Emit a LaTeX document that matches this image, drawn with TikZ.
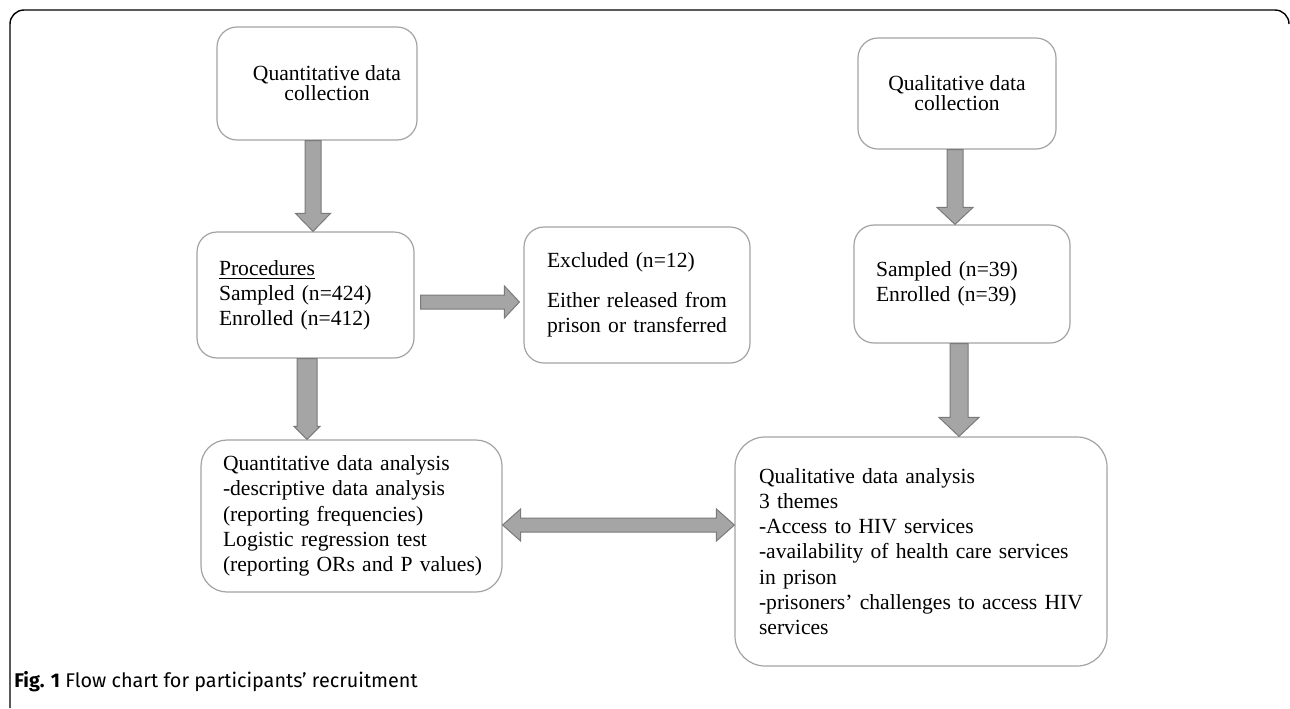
\documentclass[tikz,border=0pt]{standalone}
\usepackage{fontspec}
\setmainfont{Liberation Serif}
\newfontfamily\capfont{Fira Sans}
\usepackage{tikz}
\usetikzlibrary{calc}
\definecolor{boxline}{RGB}{163,163,163}
\definecolor{arrowfill}{RGB}{165,165,165}
\definecolor{arrowline}{RGB}{122,122,122}
\tikzstyle{box}=[draw=boxline, line width=0.6pt, rounded corners=10pt, fill=white, inner sep=0pt, font=\fontsize{10.8pt}{12.6pt}\selectfont]
\tikzstyle{titlebox}=[box, align=center, font=\fontsize{10.8pt}{10pt}\selectfont]
\tikzstyle{textbox}=[box, align=left]
\tikzstyle{fatarrow}=[draw=arrowline, fill=arrowfill, line width=0.5pt, line join=miter]
\providecommand{\fatdown}[5]{\path[fatarrow] let \p1=(#1), \p2=(#2) in
  (\x1-#3,\y1) -- (\x1-#3,\y2+#5) -- (\x1-#4,\y2+#5) -- (\x1,\y2)
  -- (\x1+#4,\y2+#5) -- (\x1+#3,\y2+#5) -- (\x1+#3,\y1) -- cycle;}
\providecommand{\fatright}[5]{\path[fatarrow] let \p1=(#1), \p2=(#2) in
  (\x1,\y1+#3) -- (\x2-#5,\y1+#3) -- (\x2-#5,\y1+#4) -- (\x2,\y1)
  -- (\x2-#5,\y1-#4) -- (\x2-#5,\y1-#3) -- (\x1,\y1-#3) -- cycle;}
\providecommand{\fatboth}[5]{\path[fatarrow] let \p1=(#1), \p2=(#2) in
  (\x1,\y1) -- (\x1+#5,\y1+#4) -- (\x1+#5,\y1+#3) -- (\x2-#5,\y1+#3) -- (\x2-#5,\y1+#4)
  -- (\x2,\y1) -- (\x2-#5,\y1-#4) -- (\x2-#5,\y1-#3) -- (\x1+#5,\y1-#3) -- (\x1+#5,\y1-#4) -- cycle;}

\begin{document}
\begin{tikzpicture}[x=0.5pt, y=-0.5pt]
\useasboundingbox (0,0) rectangle (1290,708);
\draw[line width=0.7pt, rounded corners=7pt] (10,708) -- (10,10) -- (1289,10) -- (1289,24);

\node[titlebox, minimum width=100pt, minimum height=56.5pt] (qncol) at (317,83.5) {\hspace*{10pt}Quantitative data\\\hspace*{10pt}collection};
\node[titlebox, minimum width=99pt, minimum height=55.5pt] (qlcol) at (957,93.5) {Qualitative data\\collection};
\node[textbox, text width=86.5pt, minimum width=108.5pt, minimum height=63pt] (proc) at (305.5,295)
  {\underline{Procedures}\\Sampled (n=424)\\Enrolled (n=412)};
\node[textbox, text width=90pt, minimum width=113pt, minimum height=68pt] (excl) at (637,295)
  {Excluded (n=12)\\[7.5pt]\mbox{Either released from}\\\mbox{prison or transferred}};
\node[textbox, text width=86pt, minimum width=108pt, minimum height=59pt] (samp) at (962,284)
  {Sampled (n=39)\\Enrolled (n=39)};
\node[textbox, rounded corners=13pt, text width=128.5pt, minimum width=150.5pt, minimum height=76pt] (qnana) at (351.5,516)
  {Quantitative data analysis\\-descriptive data analysis\\(reporting frequencies)\\Logistic regression test\\\mbox{(reporting ORs and P values)}};
\node[textbox, rounded corners=15pt, text width=162pt, minimum width=186pt, minimum height=114.5pt] (qlana) at (921,551.5)
  {Qualitative data analysis\\3 themes\\-Access to HIV services\\-availability of health care services\\in prison\\\mbox{-prisoners’ challenges to access HIV}\\services};
\coordinate (link) at (0,525);

\fatdown{[xshift=-2pt]qncol.south}{qncol.south |- proc.north}{4pt}{8.75pt}{9pt}
\fatdown{[xshift=-1pt]qlcol.south}{qlcol.south |- samp.north}{4pt}{9pt}{8.5pt}
\fatdown{[xshift=0.75pt]proc.south}{proc.south |- qnana.north}{5pt}{6.5pt}{6.5pt}
\fatdown{[xshift=-1.5pt]samp.south}{samp.south |- qlana.north}{4.5pt}{10pt}{9.5pt}
\fatright{[xshift=3pt, yshift=-3.5pt]proc.east}{[xshift=-2pt]excl.west}{3.5pt}{8pt}{7.5pt}
\fatboth{qnana.east |- link}{qlana.west |- link}{3.5pt}{8pt}{9pt}

\node[anchor=base west, inner sep=0pt, font=\capfont\fontsize{9.9pt}{11pt}\selectfont] (caption) at (14,687)
  {\textbf{Fig. 1} Flow chart for participants’ recruitment};
\end{tikzpicture}
\end{document}
